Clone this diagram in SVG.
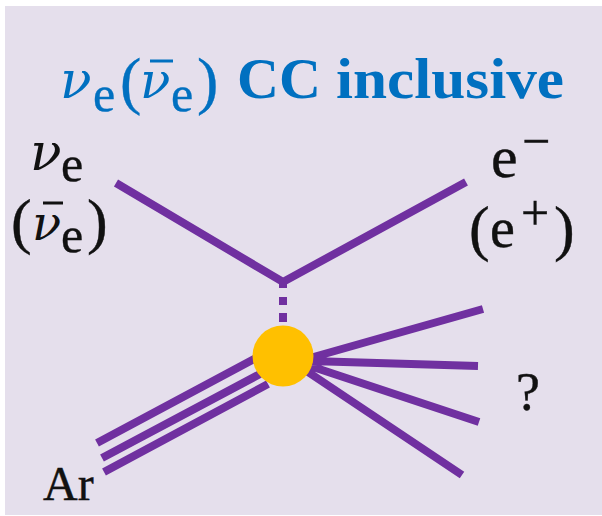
<svg xmlns="http://www.w3.org/2000/svg" width="602" height="516" viewBox="0 0 602 516">
<style>
text{font-family:"Liberation Serif","Times New Roman",serif}
.t{fill:#0070c0;stroke:#0070c0;stroke-width:.4}
.k{fill:#111;stroke:#111;stroke-width:.4}
.b{font-weight:700;fill:#0070c0}
.n{font-family:"DejaVu Serif",serif;font-style:italic;stroke:none}
.l{stroke:#7030a0;fill:none;stroke-width:8}
.bar{stroke-width:3;fill:none}
</style>
<rect width="602" height="516" fill="#fff"/>
<rect x="5" y="6" width="597" height="509" fill="#e5dfec"/>
<g id="connectors">
<path class="l" d="M116 183L283 282L466 182"/>
<path class="l" d="M283 282V288M283 297V305M283 313V322"/>
<path class="l" d="M97 443L256 358M102 458L260 374M104 472L268 384"/>
<path class="l" d="M483 309L310 358M478 366L310 361M479 422L310 366M462 475L305 370"/>
</g>
<g id="vertex"><circle cx="283" cy="356" r="30.5" fill="#ffc000"/></g>
<g id="title">
<text class="t"><tspan class="n" x="60" y="98" font-size="52">ν</tspan><tspan x="93" y="111" font-size="50">e</tspan><tspan x="120" y="102" font-size="64">(</tspan><tspan class="n" x="140" y="98" font-size="50">ν</tspan><tspan x="171" y="111" font-size="50">e</tspan><tspan x="197" y="102" font-size="64">)</tspan></text>
<line x1="150" y1="61" x2="173" y2="61" stroke="#0070c0" class="bar"/>
<text class="b" x="237" y="98" font-size="56" textLength="84" lengthAdjust="spacingAndGlyphs">CC</text>
<text class="b" x="336" y="98" font-size="57" textLength="228" lengthAdjust="spacingAndGlyphs">inclusive</text>
</g>
<g id="nu-label">
<text class="k"><tspan class="n" x="30" y="170" font-size="52">ν</tspan><tspan x="61" y="181" font-size="50">e</tspan></text>
<text class="k"><tspan x="11" y="242" font-size="62">(</tspan><tspan class="n" x="32" y="240" font-size="48">ν</tspan><tspan x="61" y="252" font-size="50">e</tspan><tspan x="87" y="242" font-size="62">)</tspan></text>
<line x1="43" y1="203" x2="63" y2="203" stroke="#111" class="bar"/>
</g>
<g id="electron-label">
<text class="k"><tspan x="491" y="177" font-size="60">e</tspan><tspan x="522" y="158" font-size="50">−</tspan></text>
<text class="k"><tspan x="469" y="249" font-size="62">(</tspan><tspan x="490" y="247" font-size="56">e</tspan><tspan x="521" y="230" font-size="50">+</tspan><tspan x="554" y="249" font-size="62">)</tspan></text>
</g>
<g id="ar-label"><text class="k" x="43" y="500" font-size="48">Ar</text></g>
<g id="unknown-label"><text class="k" x="516" y="410" font-size="54">?</text></g>
</svg>
